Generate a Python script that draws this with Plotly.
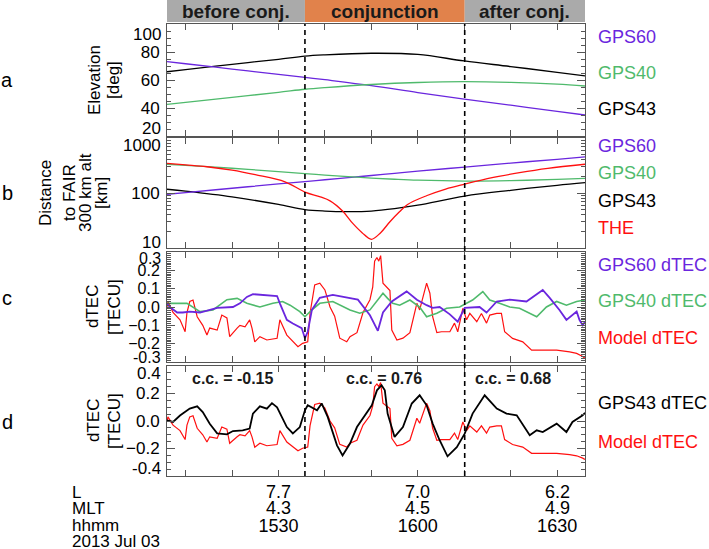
import plotly.graph_objects as go

# ---------------- data (time in minutes after 15:00 UT, 2013 Jul 03) ----------------
t_elev = [6, 10, 20, 30, 35.7, 40, 50, 60, 70, 80, 90, 96]
elev_gps60 = [73.1, 71.6, 67.8, 64.0, 61.9, 60.2, 56.0, 51.0, 46.4, 42.0, 37.6, 35.0]
elev_gps40 = [42.6, 44.0, 47.6, 51.2, 53.4, 54.6, 56.8, 58.2, 58.8, 58.3, 57.0, 55.7]
elev_gps43 = [65.9, 67.4, 71.2, 74.8, 77.1, 78.0, 79.1, 78.3, 73.6, 69.6, 65.5, 62.9]

t_dist = [6, 10, 20, 30, 35.7, 40, 45, 50, 55, 60, 70.1, 80, 90, 96]
dist_gps60 = [95, 102, 122, 146, 161, 174, 190, 208, 228, 250, 296, 350, 410, 452]
dist_gps40 = [333, 318, 282, 245, 225, 212, 198, 187, 178, 171, 165, 168, 177, 185]
dist_gps43 = [117, 108, 85, 62, 50, 47, 46, 47, 52, 60, 88, 112, 138, 154]

t_the = [6, 10, 14.6, 20, 25, 31.4, 35.7, 39, 41.1, 43.8, 46, 48, 50, 52, 54, 56, 57.8,
         62, 66, 70.1, 76, 81.9, 88, 96]
dist_the = [347, 325, 300, 260, 215, 160, 104, 85, 72, 47, 28, 19, 14.4, 19, 30, 45, 62,
            90, 118, 145, 190, 234, 280, 333]

t_g60 = [6.0, 6.6, 8.2, 9.4, 10.9, 13.1, 16.8, 20.2, 21.7, 23.2, 24.5, 27.1, 29.7, 30.3,
         31.8, 33.1, 35.0, 35.7, 36.3, 37.2, 38.9, 41.7, 45.4, 47.1, 49.7, 51.4, 52.5, 54.4,
         57.6, 59.8, 61.9, 63.2, 64.7, 66.9, 68.6, 70.1, 73.3, 74.8, 77.0, 79.8, 83.4, 86.9,
         88.4, 90.5, 92.0, 94.2, 94.8, 95.5, 96.0]
dtec_g60 = [0.02, 0.0, -0.03, -0.03, -0.025, -0.03, -0.005, 0.0, 0.02, 0.055, 0.07, 0.065,
            0.06, 0.02, -0.07, -0.09, -0.115, -0.17, -0.135, -0.016, 0.05, 0.066, 0.05, 0.04,
            -0.045, -0.13, -0.03, 0.03, 0.085, 0.04, 0.01, -0.005, 0.0, -0.04, -0.08, -0.005,
            0.0, -0.03, 0.03, 0.04, 0.03, 0.093, 0.05, -0.016, -0.07, -0.025, -0.07, -0.1, -0.08]

t_g40 = [6.0, 10.3, 13.1, 15.9, 18.9, 21.1, 23.2, 26.0, 28.8, 30.9, 32.5, 34.6, 35.7, 37.2,
         38.9, 41.7, 45.4, 47.5, 49.7, 51.2, 52.5, 53.5, 54.6, 56.1, 58.3, 60.4, 61.9, 64.1,
         66.2, 69.0, 71.8, 74.0, 75.5, 77.6, 79.8, 81.9, 84.1, 85.6, 87.7, 89.9, 92.0, 94.2, 96.0]
dtec_g40 = [0.02, 0.02, -0.025, -0.016, 0.04, 0.047, 0.02, 0.0, 0.02, 0.03, 0.01, -0.025,
            -0.053, -0.016, 0.02, 0.03, -0.016, -0.034, -0.016, 0.03, 0.075, 0.047, 0.02, 0.01,
            0.038, 0.0, -0.053, -0.034, -0.007, 0.0, 0.038, 0.084, 0.038, 0.02, 0.0, -0.007,
            -0.034, -0.053, 0.0, 0.03, 0.01, 0.03, 0.038]

t_model = [6.0, 6.2, 7.3, 8.8, 9.9, 10.3, 10.9, 11.6, 12.5, 13.7, 14.6, 15.2, 16.8, 17.8, 18.9,
           19.5, 21.1, 21.7, 22.8, 23.8, 24.3, 24.9, 26.0, 27.5, 29.7, 30.3, 31.8, 33.1, 34.2,
           35.2, 36.3, 36.8, 37.8, 38.9, 40.0, 41.1, 42.1, 43.2, 44.7, 45.4, 46.9, 48.2, 49.7,
           50.3, 50.7, 51.2, 51.6, 52.0, 52.5, 54.0, 54.4, 55.5, 56.8, 58.3, 59.8, 60.4, 61.9,
           62.6, 63.2, 64.1, 65.1, 66.9, 67.9, 68.6, 69.7, 70.5, 71.2, 72.7, 73.7, 74.8, 75.5,
           77.0, 78.0, 78.7, 80.4, 82.6, 84.5, 86.9, 89.9, 92.7, 94.2, 95.5, 96.0]
dtec_model = [0.0, 0.03, -0.03, -0.07, -0.135, -0.03, 0.03, 0.038, -0.053, -0.1, -0.153, -0.115,
              -0.126, -0.044, -0.06, -0.162, -0.115, -0.1, -0.108, -0.07, -0.115, -0.19, -0.162,
              -0.18, -0.171, -0.07, -0.153, -0.19, -0.217, -0.198, -0.19, -0.034, 0.12, 0.13,
              0.093, 0.0, -0.05, -0.17, -0.19, -0.162, -0.14, -0.03, 0.04, 0.11, 0.25, 0.27,
              0.25, 0.28, 0.13, 0.09, -0.126, -0.18, -0.17, -0.14, 0.02, -0.016, 0.13, 0.075,
              -0.053, -0.14, -0.135, -0.135, -0.088, -0.135, -0.007, -0.07, -0.035, -0.08,
              -0.035, -0.088, -0.044, -0.035, -0.035, -0.135, -0.171, -0.19, -0.235, -0.235,
              -0.235, -0.245, -0.253, -0.27, -0.28]

t_g43 = [6.0, 7.3, 8.8, 10.9, 12.5, 13.7, 15.2, 16.8, 18.9, 20.2, 22.3, 23.8, 24.5, 26.0, 27.5,
         28.6, 29.7, 30.7, 31.8, 33.1, 34.6, 35.7, 36.3, 38.3, 39.3, 40.6, 42.6, 43.8, 45.4,
         46.9, 49.0, 50.1, 51.2, 52.2, 52.9, 53.5, 55.0, 56.8, 58.7, 60.4, 61.9, 63.2, 64.7,
         66.4, 68.4, 70.1, 71.8, 74.4, 77.0, 79.1, 81.3, 84.1, 85.6, 86.9, 89.9, 92.0, 93.3,
         95.5, 96.0]
dtec_g43 = [0.005, -0.007, 0.04, 0.09, 0.107, 0.065, -0.02, -0.09, -0.097, -0.073, -0.068,
            -0.055, 0.054, 0.107, 0.09, 0.13, 0.1, 0.03, -0.044, -0.09, -0.044, 0.078, 0.114,
            0.078, 0.128, 0.03, -0.177, -0.25, -0.164, -0.044, 0.065, 0.114, 0.223, 0.26, 0.223,
            0.054, -0.116, -0.044, 0.127, 0.187, 0.114, -0.019, -0.14, -0.257, -0.19, -0.092,
            0.054, 0.187, 0.09, 0.054, 0.041, -0.104, -0.068, -0.08, -0.019, -0.08, -0.007,
            0.041, 0.06]

phase_bounds = [6, 35.7, 70.1, 96]
phase_names = ["before conj.", "conjunction", "after conj."]
cc_labels = ["c.c. = -0.15", "c.c. = 0.76", "c.c. = 0.68"]

x_tickvals = [30, 60, 90]
L_labels = ["7.7", "7.0", "6.2"]
MLT_labels = ["4.3", "4.5", "4.9"]
hhmm_labels = ["1530", "1600", "1630"]

for a, b in [(t_elev, elev_gps60), (t_elev, elev_gps40), (t_elev, elev_gps43),
             (t_dist, dist_gps60), (t_dist, dist_gps40), (t_dist, dist_gps43),
             (t_the, dist_the), (t_g60, dtec_g60), (t_g40, dtec_g40),
             (t_model, dtec_model), (t_g43, dtec_g43)]:
    assert len(a) == len(b), (len(a), len(b))

# ---------------- styling ----------------
PURPLE = "#6a26de"
GREEN = "#4fba6c"
RED = "#ff1010"
BLACK = "#000000"
GRAY_BAR = "#aaaaaa"
ORANGE_BAR = "#e1824b"
AX = "#555555"
FONT = "Liberation Sans, Arial, sans-serif"

W, H = 709, 549
ML, MR, MT, MB = 167, 124, 0, 73
PW, PH = W - ML - MR, H - MT - MB


def px_x(px):
    return (px - ML) / PW


def px_y(py):
    return 1 - (py - MT) / PH


fig = go.Figure()

def add(x, y, color, width, ax, shape="linear"):
    fig.add_trace(go.Scatter(x=x, y=y, mode="lines", xaxis="x" + ax, yaxis="y" + ax,
                             line=dict(color=color, width=width, shape=shape),
                             hoverinfo="skip", showlegend=False))

# panel a
add(t_elev, elev_gps43, BLACK, 1.3, "", "spline")
add(t_elev, elev_gps60, PURPLE, 1.3, "", "spline")
add(t_elev, elev_gps40, GREEN, 1.3, "", "spline")
# panel b
add(t_dist, dist_gps43, BLACK, 1.3, "2", "spline")
add(t_dist, dist_gps60, PURPLE, 1.3, "2", "spline")
add(t_dist, dist_gps40, GREEN, 1.3, "2", "spline")
add(t_the, dist_the, RED, 1.3, "2", "spline")
# panel c
add(t_model, dtec_model, RED, 1.2, "3")
add(t_g40, dtec_g40, GREEN, 1.6, "3")
add(t_g60, dtec_g60, PURPLE, 1.8, "3")
# panel d
add(t_model, dtec_model, RED, 1.2, "4")
add(t_g43, dtec_g43, BLACK, 1.8, "4")

domains = {
    "": (px_y(136), px_y(24)),
    "2": (px_y(248), px_y(138)),
    "3": (px_y(362), px_y(252)),
    "4": (0.0, px_y(366)),
}

XT = [10, 20, 30, 40, 50, 60, 70, 80, 90]
xcommon = dict(range=[6, 96], showline=True, linecolor=AX, linewidth=1, mirror="ticks",
               ticks="inside", ticklen=6, tickcolor=AX, tickwidth=1, automargin=False,
               tickvals=XT, showgrid=False, zeroline=False, domain=[0, 1])
ycommon = dict(showline=True, linecolor=AX, linewidth=1, mirror="ticks", ticks="inside",
               ticklen=8, tickcolor=AX, tickwidth=1, showgrid=False, zeroline=False,
               automargin=False,
               tickfont=dict(size=17, color="black", family=FONT), ticklabelstandoff=3)

layout = dict(width=W, height=H, margin=dict(l=ML, r=MR, t=MT, b=MB, autoexpand=False),
              paper_bgcolor="white", plot_bgcolor="white", showlegend=False,
              font=dict(family=FONT, size=17, color="black"))

for k in ["", "2", "3", "4"]:
    xa = dict(xcommon, anchor="y" + k)
    if k == "4":
        ticktext = [""] * len(XT)
        for v, lab in zip(x_tickvals, hhmm_labels):
            ticktext[XT.index(v)] = lab
        xa.update(ticktext=ticktext, showticklabels=True, ticklabelstandoff=33,
                  tickfont=dict(size=18, color="black", family=FONT))
    else:
        xa.update(showticklabels=False, matches="x4")
    layout["xaxis" + k] = xa

layout["yaxis"] = dict(ycommon, anchor="x", domain=list(domains[""]), range=[20, 100],
                       tickvals=[40, 60, 80], minor=dict(dtick=5, ticks="inside", ticklen=4,
                                                          tickcolor=AX))
layout["yaxis2"] = dict(ycommon, anchor="x2", domain=list(domains["2"]), type="log",
                        range=[1, 3], tickvals=[100], ticktext=["100"],
                        minor=dict(ticks="inside", ticklen=4, tickcolor=AX,
                                   tickvals=[20, 30, 40, 50, 60, 70, 80, 90,
                                             200, 300, 400, 500, 600, 700, 800, 900]))
layout["yaxis3"] = dict(ycommon, anchor="x3", domain=list(domains["3"]), range=[-0.3, 0.3],
                        tickvals=[-0.2, -0.1, 0.0, 0.1, 0.2], tickformat=".1f",
                        tickfont=dict(size=16, color="black", family=FONT),
                        minor=dict(dtick=0.01, ticks="inside", ticklen=4, tickcolor=AX))
layout["yaxis4"] = dict(ycommon, anchor="x4", domain=list(domains["4"]), range=[-0.4, 0.4],
                        tickvals=[-0.2, 0.0, 0.2], tickformat=".1f",
                        minor=dict(dtick=0.05, ticks="inside", ticklen=4, tickcolor=AX))
fig.update_layout(**layout)

shapes = []
ann = []

# header phase bars
bar_cols = [GRAY_BAR, ORANGE_BAR, GRAY_BAR]
for i in range(3):
    shapes.append(dict(type="rect", xref="x4", yref="paper", x0=phase_bounds[i],
                       x1=phase_bounds[i + 1], y0=px_y(22), y1=1.0, fillcolor=bar_cols[i],
                       line=dict(width=0), layer="below"))
    ann.append(dict(xref="x4", yref="paper", x=(phase_bounds[i] + phase_bounds[i + 1]) / 2,
                    y=px_y(11), text="<b>" + phase_names[i] + "</b>", showarrow=False,
                    font=dict(size=19, color="#1a1a1a", family=FONT),
                    xanchor="center", yanchor="middle"))
# dashed lines
for xv in phase_bounds[1:3]:
    shapes.append(dict(type="line", xref="x4", yref="paper", x0=xv, x1=xv, y0=0,
                       y1=px_y(24), line=dict(color="black", width=1.6, dash="5px,4px"),
                       layer="above"))

# c.c. labels in panel d
cc_x = [20.2, 52.7, 80.4]
for xv, txt in zip(cc_x, cc_labels):
    ann.append(dict(xref="x4", yref="paper", x=xv, y=px_y(378), text="<b>" + txt + "</b>",
                    showarrow=False, font=dict(size=16, color="#1a1a1a", family=FONT),
                    xanchor="center", yanchor="middle"))

# edge tick labels (shifted inward as in the original); (axis, value, text, pixel shift, size)
edge = [("y", 100, "100", -10, 17), ("y", 20, "20", 8, 17), ("y2", 3, "1000", -7, 17),
        ("y2", 1, "10", 6, 17), ("y3", 0.3, "0.3", -6, 16), ("y3", -0.3, "-0.3", 5, 16),
        ("y4", 0.4, "0.4", -7, 17), ("y4", -0.4, "-0.4", 8, 17)]
for yr, yv, txt, sh, fs in edge:
    ann.append(dict(xref="paper", yref=yr, x=0, y=yv, text=txt, showarrow=False,
                    xanchor="right", yanchor="middle", xshift=-4, yshift=sh,
                    font=dict(size=fs, color="black", family=FONT)))

# x label rows
for xv, l, m in zip(x_tickvals, L_labels, MLT_labels):
    ann.append(dict(xref="x4", yref="paper", x=xv, y=px_y(492), text=l, showarrow=False,
                    xanchor="center", yanchor="middle", font=dict(size=18, family=FONT)))
    ann.append(dict(xref="x4", yref="paper", x=xv, y=px_y(508), text=m, showarrow=False,
                    xanchor="center", yanchor="middle", font=dict(size=18, family=FONT)))
for py, txt in [(492, "L"), (508, "MLT"), (525, "hhmm"), (541, "2013 Jul 03")]:
    ann.append(dict(xref="paper", yref="paper", x=px_x(70), y=px_y(py), text=txt,
                    showarrow=False, xanchor="left", yanchor="middle",
                    font=dict(size=17, family=FONT)))

# panel letters
for py, txt in [(80, "a"), (193, "b"), (298, "c"), (422, "d")]:
    ann.append(dict(xref="paper", yref="paper", x=px_x(7), y=px_y(py), text=txt,
                    showarrow=False, xanchor="center", yanchor="middle",
                    font=dict(size=20, family=FONT)))

# y titles (rotated)
ytitles = [(94, 80, "Elevation"), (113, 80, "[deg]"),
           (45, 193, "Distance"), (69, 193, "to FAIR"), (85, 193, "300 km alt"),
           (101, 193, "[km]"),
           (92, 307, "dTEC"), (114, 307, "[TECU]"),
           (93, 421, "dTEC"), (114, 421, "[TECU]")]
for px, py, txt in ytitles:
    ann.append(dict(xref="paper", yref="paper", x=px_x(px), y=px_y(py), text=txt,
                    showarrow=False, textangle=-90, xanchor="center", yanchor="middle",
                    font=dict(size=17, family=FONT)))

# right-hand colour legends
legends = [(37, "GPS60", PURPLE), (73, "GPS40", GREEN), (109, "GPS43", BLACK),
           (146, "GPS60", PURPLE), (173, "GPS40", GREEN), (201, "GPS43", BLACK),
           (228, "THE", RED),
           (265, "GPS60 dTEC", PURPLE), (301, "GPS40 dTEC", GREEN), (338, "Model dTEC", RED),
           (403, "GPS43 dTEC", BLACK), (442, "Model dTEC", RED)]
for py, txt, col in legends:
    ann.append(dict(xref="paper", yref="paper", x=px_x(596), y=px_y(py), text=txt,
                    showarrow=False, xanchor="left", yanchor="middle",
                    font=dict(size=18, color=col, family=FONT)))

fig.update_layout(shapes=shapes, annotations=ann)
fig.write_html("out.html", config={"displayModeBar": False},
               post_script="document.body.style.margin='0';document.body.style.padding='0';"
                           "document.body.style.overflow='hidden';")
